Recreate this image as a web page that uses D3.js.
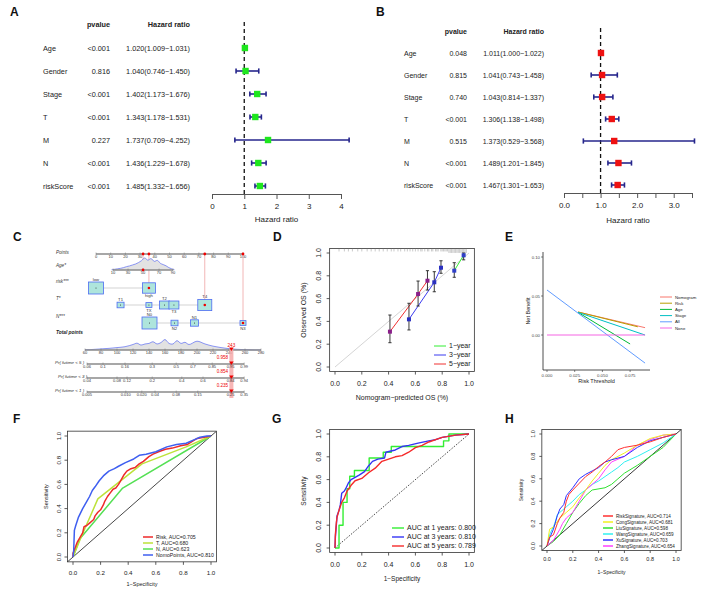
<!DOCTYPE html>
<html><head><meta charset="utf-8">
<script src="https://cdn.jsdelivr.net/npm/d3@7"></script>
<style>body{margin:0;background:#fff}svg{font-family:"Liberation Sans",Arial,Helvetica,sans-serif}</style>
</head><body><svg id="c" width="708" height="600"></svg>
<script>
// ---------------- DATA ----------------
const forestVars = ["Age","Gender","Stage","T","M","N","riskScore"];
const uniP  = ["<0.001","0.816","<0.001","<0.001","0.227","<0.001","<0.001"];
const uniHR = [1.020,1.040,1.402,1.343,1.737,1.436,1.485];
const uniLo = [1.009,0.746,1.173,1.178,0.709,1.229,1.332];
const uniHi = [1.031,1.450,1.676,1.531,4.252,1.678,1.656];
const multiP  = ["0.048","0.815","0.740","<0.001","0.515","<0.001","<0.001"];
const multiHR = [1.011,1.041,1.043,1.306,1.373,1.489,1.467];
const multiLo = [1.000,0.743,0.814,1.138,0.529,1.201,1.301];
const multiHi = [1.022,1.458,1.337,1.498,3.568,1.845,1.653];
const uniTicks = [0,1,2,3,4];
const multiTicks = [0,0.5,1,1.5,2,2.5,3,3.5];
const multiTickLabels = [0,1,2,3];

// nomogram
const ptsTicks = [0,10,20,30,40,50,60,70,80,90,100];
const ageTicks = [10,30,50,70,90];
const agePts   = [11.6,21.8,32,42.9,52.4];
const ageGrid  = [8,12,16,20,24,28,32,36,40,44,48,52,56,60,64,68,72,76,80,84,88,92];
const ageDens  = [0.02,0.06,0.1,0.14,0.2,0.28,0.34,0.42,0.5,0.62,0.78,1.0,0.82,0.95,0.72,0.8,0.55,0.45,0.35,0.2,0.1,0.02];
const riskLevels = ["low","high"]; const riskPts = [0,36]; const riskFreq = [225,169];
const tLevels = ["T1","TX","T2","T3","T4"]; const tPts = [16.7,36,46.6,53,74]; const tFreq = [49,36,100,100,196];
const nLevels = ["N0","N2","N1","N3"]; const nPts = [36.4,53.4,67,100]; const nFreq = [225,49,64,36];
const selAge = 50, selRisk = "high", selT = "T4", selN = "N3", selTotal = 243;
const totTicks = [60,80,100,120,140,160,180,200,220,240,260,280];
const totGrid = [60,70,80,90,100,110,120,125,130,135,140,145,150,155,160,165,170,175,180,185,190,200,210,220,230,240,250,260,270,280];
const totDens = [0.02,0.05,0.1,0.15,0.22,0.3,0.5,0.62,0.45,0.55,0.6,0.75,0.55,0.68,0.95,0.6,0.55,0.85,0.6,0.7,0.5,0.8,0.55,0.35,0.22,0.12,0.06,0.03,0.01,0];
const pr5Labels = ["0.06","0.1","0.16","0.3","0.5","0.7","0.85","0.95","0.99"];
const pr5Pts    = [62.5,82.5,110,144,174,195,219,242,259];
const pr3Labels = ["0.04","0.08","0.12","0.2","0.4","0.6","0.84","0.94"];
const pr3Pts    = [62.5,100,112.5,144,181,207.5,242,259];
const pr1Labels = ["0.005","0.010","0.020","0.04","0.08","0.15","0.25","0.35"];
const pr1Pts    = [62.5,111,131,147.5,174,201,242,259];
const selProb = ["0.958","0.854","0.235"];

// calibration
const calPred1=[0.89,0.96], calObs1=[0.845,0.98], calLo1=[0.787,0.94], calHi1=[0.915,1.0];
const calPred3=[0.552,0.741,0.791], calObs3=[0.418,0.743,0.871], calLo3=[0.325,0.66,0.822], calHi3=[0.559,0.836,0.932];
const calPred5=[0.41,0.62,0.69], calObs5=[0.31,0.64,0.757], calLo5=[0.213,0.535,0.675], calHi5=[0.456,0.754,0.845];
const rugPred = [0.03,0.07,0.1,0.13,0.17,0.2,0.24,0.27,0.3,0.33,0.36,0.39,0.42,0.44,0.47,0.49,0.52,0.54,0.56,0.58,0.6,0.62,0.64,0.65,0.67,0.69,0.7,0.72,0.73,0.75,0.76,0.77,0.79,0.8,0.81,0.82,0.83,0.84,0.85,0.86,0.87,0.88,0.89,0.9,0.91,0.92,0.93,0.94,0.95,0.96,0.97,0.98];

// DCA
const dcaNames = ["Nomogram","Risk","Age","Stage","All","None"];
const dcaNomoX=[0.028,0.0885], dcaNomoY=[0.0295,0.0094];
const dcaRiskX=[0.028,0.082],  dcaRiskY=[0.0295,0.0105];
const dcaAgeX=[0.028,0.075],   dcaAgeY=[0.029,-0.0115];
const dcaStageX=[0.028,0.0885],dcaStageY=[0.029,0.0];
const dcaAllX=[0,0.0885],      dcaAllY=[0.0577,-0.036];
const dcaNoneX=[0,0.0885],     dcaNoneY=[0,0];
const dcaXTicks=[0,0.025,0.05,0.075], dcaYTicks=[0,0.05,0.10];

// ROC F
const rocRiskFpr=[0,0,0.01,0.03,0.05,0.07,0.08,0.1,0.12,0.15,0.16,0.18,0.2,0.22,0.23,0.25,0.27,0.29,0.31,0.33,0.35,0.37,0.39,0.42,0.45,0.48,0.51,0.55,0.58,0.62,0.67,0.72,0.78,0.83,0.87,0.9,0.95,1];
const rocRiskTpr=[0,0.03,0.06,0.12,0.16,0.2,0.25,0.26,0.28,0.31,0.34,0.37,0.39,0.43,0.46,0.5,0.53,0.56,0.57,0.6,0.64,0.68,0.71,0.73,0.74,0.77,0.79,0.83,0.85,0.87,0.89,0.9,0.92,0.93,0.96,0.98,0.99,1];
const rocTFpr=[0,0.05,0.18,0.5,0.82,1], rocTTpr=[0,0.14,0.48,0.77,0.91,1];
const rocNFpr=[0,0.05,0.36,1], rocNTpr=[0,0.15,0.57,1];
const rocNomoFpr=[0,0.005,0.01,0.02,0.04,0.07,0.1,0.12,0.14,0.16,0.19,0.22,0.26,0.3,0.33,0.38,0.44,0.48,0.53,0.6,0.68,0.75,0.82,0.88,0.92,0.97,1];
const rocNomoTpr=[0,0.05,0.22,0.26,0.33,0.4,0.46,0.5,0.55,0.58,0.63,0.67,0.71,0.73,0.75,0.78,0.81,0.84,0.85,0.87,0.91,0.93,0.94,0.97,0.99,1,1];
const rocFLabels=["Risk, AUC=0.705","T, AUC=0.680","N, AUC=0.623","NomoPoints, AUC=0.810"];

// ROC G
const rocG1Fpr=[0,0.03,0.03,0.06,0.06,0.09,0.09,0.11,0.11,0.145,0.145,0.255,0.255,0.36,0.36,0.42,0.42,0.81,0.81,0.85,0.85,1];
const rocG1Tpr=[0,0,0.2,0.2,0.4,0.4,0.52,0.52,0.63,0.63,0.68,0.68,0.79,0.79,0.84,0.84,0.89,0.89,0.94,0.94,1,1];
const rocG3Fpr=[0,0.003,0.01,0.015,0.03,0.04,0.05,0.07,0.08,0.1,0.12,0.15,0.18,0.22,0.25,0.28,0.32,0.37,0.38,0.45,0.5,0.55,0.62,0.7,0.75,0.8,0.9,1];
const rocG3Tpr=[0,0.1,0.2,0.28,0.33,0.38,0.48,0.5,0.52,0.57,0.6,0.62,0.64,0.67,0.72,0.76,0.78,0.79,0.84,0.86,0.89,0.9,0.92,0.94,0.95,0.97,0.99,1];
const rocG5Fpr=[0,0.003,0.01,0.015,0.03,0.05,0.07,0.09,0.12,0.15,0.2,0.25,0.3,0.35,0.4,0.45,0.5,0.55,0.6,0.65,0.7,0.8,0.9,1];
const rocG5Tpr=[0,0.12,0.22,0.27,0.33,0.4,0.44,0.5,0.55,0.59,0.61,0.66,0.7,0.76,0.78,0.8,0.81,0.84,0.88,0.9,0.93,0.97,0.99,1];
const rocGLabels=["AUC at 1 years: 0.800","AUC at 3 years: 0.810","AUC at 5 years: 0.789"];

// ROC H
const rocHRiskFpr=[0,0.02,0.05,0.08,0.1,0.13,0.15,0.17,0.2,0.25,0.3,0.35,0.4,0.45,0.5,0.55,0.6,0.7,0.8,0.9,1];
const rocHRiskTpr=[0,0.08,0.1,0.2,0.25,0.3,0.4,0.46,0.5,0.56,0.62,0.66,0.71,0.75,0.8,0.86,0.88,0.9,0.93,0.97,1];
const rocHCongFpr=[0,0.02,0.05,0.1,0.15,0.2,0.25,0.3,0.35,0.4,0.45,0.5,0.6,0.7,0.8,0.9,1];
const rocHCongTpr=[0,0.15,0.17,0.25,0.3,0.35,0.43,0.5,0.58,0.65,0.72,0.77,0.83,0.9,0.96,0.99,1];
const rocHLiuFpr=[0,0.05,0.1,0.15,0.2,0.25,0.3,0.35,0.45,0.5,0.55,0.6,0.7,0.8,0.9,1];
const rocHLiuTpr=[0,0.04,0.1,0.2,0.3,0.38,0.45,0.5,0.52,0.55,0.6,0.65,0.72,0.8,0.88,1];
const rocHWangFpr=[0,0.02,0.06,0.08,0.1,0.15,0.2,0.25,0.3,0.35,0.4,0.45,0.5,0.55,0.6,0.7,0.8,0.9,1];
const rocHWangTpr=[0,0.1,0.2,0.28,0.3,0.35,0.4,0.46,0.5,0.55,0.58,0.62,0.66,0.7,0.75,0.8,0.86,0.92,1];
const rocHXuFpr=[0,0.02,0.05,0.08,0.1,0.13,0.15,0.2,0.25,0.3,0.35,0.4,0.45,0.5,0.6,0.7,0.8,0.9,1];
const rocHXuTpr=[0,0.07,0.15,0.27,0.33,0.37,0.45,0.52,0.6,0.64,0.67,0.7,0.75,0.77,0.8,0.88,0.94,0.97,1];
const rocHZhangFpr=[0,0.05,0.1,0.12,0.15,0.2,0.25,0.3,0.35,0.4,0.45,0.5,0.6,0.7,0.8,0.9,1];
const rocHZhangTpr=[0,0.05,0.15,0.2,0.25,0.3,0.4,0.5,0.55,0.6,0.68,0.75,0.8,0.9,0.95,0.99,1];
const rocHLabels=["RiskSignature, AUC=0.714","CongSignature, AUC=0.681","LiuSignature, AUC=0.598","WangSignature, AUC=0.659","XuSignature, AUC=0.703","ZhangSignature, AUC=0.654"];

// ---------------- HELPERS ----------------
const svg = d3.select('#c');
function txt(g,x,y,s,o={}){
  const t=g.append('text').attr('x',x).attr('y',y).text(s)
    .attr('font-size',o.size||7).attr('fill',o.fill||'#222');
  if(o.anchor) t.attr('text-anchor',o.anchor);
  if(o.weight) t.attr('font-weight',o.weight);
  if(o.style) t.attr('font-style',o.style);
  if(o.rotate!==undefined) t.attr('transform',`rotate(${o.rotate},${x},${y})`);
  return t;
}
function ln(g,x1,y1,x2,y2,c,w,dash){
  const l=g.append('line').attr('x1',x1).attr('y1',y1).attr('x2',x2).attr('y2',y2).attr('stroke',c).attr('stroke-width',w||1);
  if(dash) l.attr('stroke-dasharray',dash);
  return l;
}
// panel letters
[["A",10,16],["B",376,16],["C",13,241],["D",273,241],["E",505,241],["F",13,423],["G",272,423],["H",505,423]]
  .forEach(([s,x,y])=>txt(svg,x,y,s,{size:12,weight:'bold',fill:'#111'}));

// ---------------- FOREST ----------------
function forest(cfg,pv,hr,lo,hi,color){
  const g=svg.append('g');
  const x=d3.scaleLinear().domain(cfg.domain).range(cfg.range);
  const y=d3.scalePoint().domain(forestVars).range([cfg.rowTop,cfg.rowBot]);
  const fs=cfg.fs;
  txt(g,cfg.pX,cfg.headY,'pvalue',{anchor:'end',weight:'bold',size:fs});
  txt(g,cfg.hrX,cfg.headY,'Hazard ratio',{anchor:'end',weight:'bold',size:fs});
  ln(g,x(1),cfg.dashTop,x(1),cfg.axisY,'#111',1.3,'4,3');
  forestVars.forEach((v,i)=>{
    const yy=y(v);
    txt(g,cfg.labX,yy+2.6,v,{size:fs});
    txt(g,cfg.pX,yy+2.6,pv[i],{anchor:'end',size:fs});
    txt(g,cfg.hrX,yy+2.6,`${hr[i].toFixed(3)}(${lo[i].toFixed(3)}\u2212${hi[i].toFixed(3)})`,{anchor:'end',size:fs});
    ln(g,x(lo[i]),yy,x(hi[i]),yy,'#26268c',1.6);
    ln(g,x(lo[i]),yy-2.6,x(lo[i]),yy+2.6,'#26268c',1.6);
    ln(g,x(hi[i]),yy-2.6,x(hi[i]),yy+2.6,'#26268c',1.6);
    g.append('rect').attr('x',x(hr[i])-3.2).attr('y',yy-3.2).attr('width',6.4).attr('height',6.4).attr('fill',color);
  });
  const ax=d3.axisBottom(x).tickValues(cfg.ticks).tickSize(5).tickSizeOuter(0)
    .tickFormat(d=>cfg.labTicks.includes(d)?cfg.fmt(d):'');
  const a=g.append('g').attr('transform',`translate(0,${cfg.axisY})`).call(ax);
  a.selectAll('path,line').attr('stroke','#555').attr('stroke-width',1);
  a.selectAll('text').attr('font-size',8).attr('fill','#222').attr('dy','0.9em')
    .attr('font-family','"Liberation Sans",Arial,sans-serif');
  txt(g,(cfg.range[0]+cfg.range[1])/2,cfg.titleY,'Hazard ratio',{anchor:'middle',size:8});
}
forest({domain:[0,4],range:[212,341],ticks:uniTicks,labTicks:uniTicks,fmt:d3.format('d'),
  rowTop:48,rowBot:186,labX:43,pX:110,hrX:190,headY:27,dashTop:22,axisY:194,titleY:222,fs:7.3},
  uniP,uniHR,uniLo,uniHi,'#1ee61e');
forest({domain:[0,3.5],range:[564,692],ticks:multiTicks,labTicks:multiTickLabels,fmt:d3.format('.1f'),
  rowTop:53,rowBot:185,labX:404,pX:467,hrX:544,headY:34,dashTop:28,axisY:193,titleY:223,fs:7},
  multiP,multiHR,multiLo,multiHi,'#ee1111');

// ---------------- NOMOGRAM (C) ----------------
(function(){
  const g=svg.append('g');
  const P=d3.scaleLinear([0,100],[96,243]);
  const T=d3.scaleLinear([60,280],[85,261]);
  const ageToPts=d3.scaleLinear(ageTicks,agePts);
  const lab=(s,y,o={})=>txt(g,o.x||56,y,s,{size:4.6,style:'italic',fill:'#333',weight:o.w});
  const axisRow=(x0,x1,y)=>ln(g,x0,y,x1,y,'#8a8a8a',1.4);
  const tickLab=(x,y,s)=>{ln(g,x,y-1.5,x,y+1,'#777',0.5);txt(g,x,y+4.2,s,{size:4,anchor:'middle',fill:'#333'});};
  const yP=254;
  lab('Points',yP);
  axisRow(P(0),P(100),yP);
  ptsTicks.forEach(t=>tickLab(P(t),yP,t));
  const selAgePts=ageToPts(selAge);
  const selR=riskPts[riskLevels.indexOf(selRisk)], selTp=tPts[tLevels.indexOf(selT)], selNp=nPts[nLevels.indexOf(selN)];
  const yA=270,yR=288,yT=305,yN=323;
  [[selAgePts,yA],[selR,yR],[selTp,yT],[selNp,yN]].forEach(([p,yy])=>ln(g,P(p),yP,P(p),yy,'#f2b6b6',1));
  lab('Age*',yA-3);
  const area=d3.area().x((d,i)=>P(ageToPts(ageGrid[i]))).y0(yA).y1(d=>yA-d*12).curve(d3.curveCatmullRom);
  g.append('path').datum(ageDens).attr('d',area).attr('fill','#e2e2e2');
  g.append('path').datum(ageDens).attr('d',d3.line().x((d,i)=>P(ageToPts(ageGrid[i]))).y(d=>yA-d*12).curve(d3.curveCatmullRom)).attr('fill','none').attr('stroke','#5b6cf0').attr('stroke-width',0.7);
  axisRow(P(agePts[0]),P(agePts[agePts.length-1]),yA);
  ageTicks.forEach((t,i)=>tickLab(P(agePts[i]),yA,t));
  function catRow(name,y,levels,pts,freq,sel){
    lab(name,y-5);
    ln(g,P(d3.min(pts)),y,P(d3.max(pts)),y,'#c8c8c8',0.8);
    levels.forEach((l,i)=>{
      const w=Math.sqrt(freq[i]), h=w*0.8, cx=P(pts[i]);
      g.append('rect').attr('x',cx-w/2).attr('y',y-h/2).attr('width',w).attr('height',h)
        .attr('fill','#aee5dc').attr('stroke','#4d6cf2').attr('stroke-width',0.8);
      g.append('circle').attr('cx',cx).attr('cy',y).attr('r',l===sel?1.3:0.5).attr('fill',l===sel?'#e00':'#222');
      const above = i%2===0;
      txt(g,cx,above?y-h/2-1.2:y+h/2+4.2,l,{size:4.2,anchor:'middle',fill:'#333'});
    });
  }
  catRow('risk***',yR,riskLevels,riskPts,riskFreq,selRisk);
  catRow('T*',yT,tLevels,tPts,tFreq,selT);
  catRow('N***',yN,nLevels,nPts,nFreq,selN);
  [selAgePts,selR,selTp,selNp].forEach(p=>g.append('circle').attr('cx',P(p)).attr('cy',yP).attr('r',1.4).attr('fill','#e00'));
  g.append('circle').attr('cx',P(selAgePts)).attr('cy',yA).attr('r',1.4).attr('fill','#e00');
  const yTot=350;
  txt(g,56,334,'Total points',{size:4.8,style:'italic',weight:'bold',fill:'#222'});
  const tarea=d3.area().x((d,i)=>T(totGrid[i])).y0(yTot).y1(d=>yTot-d*11).curve(d3.curveCatmullRom);
  g.append('path').datum(totDens).attr('d',tarea).attr('fill','#e2e2e2');
  g.append('path').datum(totDens).attr('d',d3.line().x((d,i)=>T(totGrid[i])).y(d=>yTot-d*11).curve(d3.curveCatmullRom)).attr('fill','none').attr('stroke','#5b6cf0').attr('stroke-width',0.7);
  axisRow(T(60),T(280),yTot);
  totTicks.forEach(t=>tickLab(T(t),yTot,t));
  const prRows=[[ 'Pr( futime < 5 )',364,pr5Labels,pr5Pts,55],['Pr( futime < 3 )',378,pr3Labels,pr3Pts,58],['Pr( futime < 1 )',392,pr1Labels,pr1Pts,55]];
  g.append('rect').attr('x',T(selTotal)-2).attr('y',yTot-2).attr('width',4).attr('height',400-yTot).attr('fill','#f6a9a9').attr('opacity',0.85);
  prRows.forEach(([name,y,labs,pts,lx])=>{
    txt(g,lx,y,name,{size:4.4,style:'italic',fill:'#333'});
    axisRow(T(pts[0]),T(pts[pts.length-1]),y);
    labs.forEach((s,i)=>tickLab(T(pts[i]),y,s));
  });
  [yTot,364,378,392].forEach(y=>g.append('path').attr('d',`M${T(selTotal)-2.2},${y-2.5}L${T(selTotal)+2.2},${y-2.5}L${T(selTotal)},${y+1}Z`).attr('fill','#e00'));
  txt(g,T(selTotal),yTot-3,selTotal,{size:4.6,anchor:'middle',fill:'#e00'});
  prRows.forEach(([n,y],i)=>txt(g,T(selTotal)-9,y-5,selProb[i],{size:4.6,anchor:'middle',fill:'#e00'}));
})();

// ---------------- R style box plot helper ----------------
function rBox(cfg){
  const g=svg.append('g');
  const x=d3.scaleLinear([0,1],[cfg.x0,cfg.x1]);
  const y=d3.scaleLinear([0,1],[cfg.y0,cfg.y1]);
  const bx0=x(-0.04),bx1=x(1.04),byb=y(-0.04),byt=y(1.04);
  g.append('rect').attr('x',bx0).attr('y',byt).attr('width',bx1-bx0).attr('height',byb-byt).attr('fill','none').attr('stroke','#333').attr('stroke-width',0.8);
  const ticks=[0,0.2,0.4,0.6,0.8,1.0];
  ticks.forEach(t=>{
    ln(g,x(t),byb,x(t),byb+cfg.tl,'#333',0.8);
    ln(g,bx0,y(t),bx0-cfg.tl,y(t),'#333',0.8);
    txt(g,x(t),byb+cfg.xo,t.toFixed(1),{anchor:'middle',size:cfg.tfs});
    txt(g,bx0-cfg.yo,y(t),t.toFixed(1),{anchor:'middle',size:cfg.tfs,rotate:-90});
  });
  txt(g,(bx0+bx1)/2,byb+cfg.xto,cfg.xt,{anchor:'middle',size:cfg.ttfs});
  txt(g,bx0-cfg.yto,(byt+byb)/2,cfg.yt,{anchor:'middle',size:cfg.ttfs,rotate:-90});
  const clip='clip'+Math.round(cfg.x0)+Math.round(cfg.y0);
  g.append('clipPath').attr('id',clip).append('rect').attr('x',bx0).attr('y',byt).attr('width',bx1-bx0).attr('height',byb-byt);
  const inner=g.append('g').attr('clip-path',`url(#${clip})`);
  return {g,inner,x,y,bx0,bx1,byb,byt};
}
function curve(p,fx,fy,color,w,dash){
  const pts=fx.map((v,i)=>[p.x(v),p.y(fy[i])]);
  const c=p.inner.append('path').attr('d',d3.line()(pts)).attr('fill','none').attr('stroke',color).attr('stroke-width',w).attr('stroke-linejoin','round');
  if(dash) c.attr('stroke-dasharray',dash);
}
function legend(g,x,y0,dy,len,labels,colors,fs,w){
  labels.forEach((s,i)=>{
    ln(g,x,y0+i*dy,x+len,y0+i*dy,colors[i],w);
    txt(g,x+len+3,y0+i*dy+fs*0.35,s,{size:fs});
  });
}

// ---------------- D calibration ----------------
(function(){
  const p=rBox({x0:335,x1:469,y0:367,y1:253,tl:3,xo:14,yo:9,xto:28,yto:24,tfs:7,ttfs:7,xt:'Nomogram\u2212predicted OS (%)',yt:'Observed OS (%)'});
  curve(p,[0,1],[0,1],'#cfcfcf',0.9);
  rugPred.forEach(v=>ln(p.inner,p.x(v),p.byt,p.x(v),p.byt+(v>0.84?4.5:3),'#888',0.45));
  const series=[[calPred1,calObs1,calLo1,calHi1,'#33ee33','#3040c8'],[calPred3,calObs3,calLo3,calHi3,'#3b3bf0','#2a30c0'],[calPred5,calObs5,calLo5,calHi5,'#f03030','#8a1f8a']];
  series.forEach(([px,ob,lo,hi,c])=>curve(p,px,ob,c,1));
  series.forEach(([px,ob,lo,hi,c,mc])=>{
    px.forEach((v,i)=>{
      const xx=p.x(v);
      ln(p.g,xx,p.y(lo[i]),xx,p.y(hi[i]),'#222',0.9);
      ln(p.g,xx-1.6,p.y(lo[i]),xx+1.6,p.y(lo[i]),'#222',0.9);
      ln(p.g,xx-1.6,p.y(hi[i]),xx+1.6,p.y(hi[i]),'#222',0.9);
      p.g.append('rect').attr('x',xx-2).attr('y',p.y(ob[i])-2).attr('width',4).attr('height',4).attr('fill',mc);
    });
  });
  legend(p.g,434,346,9,12,['1\u2212year','3\u2212year','5\u2212year'],['#33ee33','#3b3bf0','#f03030'],7,1);
})();

// ---------------- E DCA ----------------
(function(){
  const g=svg.append('g');
  const x=d3.scaleLinear([0,0.1],[547,657.8]);
  const y=d3.scaleLinear([0,0.1],[335,257]);
  ln(g,543,252,543,370,'#222',0.8);
  ln(g,543,370,650,370,'#222',0.8);
  dcaXTicks.forEach(t=>{ln(g,x(t),370,x(t),372,'#333',0.6);txt(g,x(t),376.5,d3.format('.3f')(t),{anchor:'middle',size:4.3,fill:'#444'});});
  dcaYTicks.forEach(t=>{ln(g,541,y(t),543,y(t),'#333',0.6);txt(g,540,y(t)+1.5,d3.format('.2f')(t),{anchor:'end',size:4.3,fill:'#444'});});
  txt(g,596.5,383,'Risk Threshold',{anchor:'middle',size:5.5});
  txt(g,530,311,'Net Benefit',{anchor:'middle',size:5.5,rotate:-90});
  const cols=['#F8766D','#B79F00','#00BA38','#00BFC4','#619CFF','#F564E3'];
  const xs=[dcaNomoX,dcaRiskX,dcaAgeX,dcaStageX,dcaAllX,dcaNoneX];
  const ys=[dcaNomoY,dcaRiskY,dcaAgeY,dcaStageY,dcaAllY,dcaNoneY];
  xs.forEach((xx,i)=>g.append('path').attr('d',d3.line()(xx.map((v,j)=>[x(v),y(ys[i][j])]))).attr('stroke',cols[i]).attr('stroke-width',1).attr('fill','none'));
  legend(g,660,297,6.2,12,dcaNames,cols,4.3,1);
})();

// ---------------- F ROC ----------------
(function(){
  const p=rBox({x0:73,x1:211,y0:557,y1:436,tl:3,xo:13,yo:6.5,xto:24,yto:19.5,tfs:6.2,ttfs:5.5,xt:'1\u2212Specificity',yt:'Sensitivity'});
  curve(p,[-0.1,1.1],[-0.1,1.1],'#333',0.9);
  const cols=['#ee2a2a','#bde23a','#55e055','#3f5ff0'];
  curve(p,rocNFpr,rocNTpr,cols[2],1.5);
  curve(p,rocTFpr,rocTTpr,cols[1],1.5);
  curve(p,rocRiskFpr,rocRiskTpr,cols[0],1.5);
  curve(p,rocNomoFpr,rocNomoTpr,cols[3],1.5);
  legend(p.g,143,537,6,10,rocFLabels,cols,5.2,1.5);
})();

// ---------------- G ROC ----------------
(function(){
  const p=rBox({x0:335,x1:469,y0:548,y1:434,tl:3,xo:14,yo:9,xto:28.5,yto:23.5,tfs:7,ttfs:6.5,xt:'1\u2212Specificity',yt:'Sensitivity'});
  curve(p,[0,1],[0,1],'#333',0.9,'1.5,1.5');
  const cols=['#33ee33','#3434f5','#f52a2a'];
  curve(p,rocG1Fpr,rocG1Tpr,cols[0],1.4);
  curve(p,rocG3Fpr,rocG3Tpr,cols[1],1.4);
  curve(p,rocG5Fpr,rocG5Tpr,cols[2],1.4);
  legend(p.g,392,528,9,12,rocGLabels,cols,7,1.4);
})();

// ---------------- H ROC ----------------
(function(){
  const p=rBox({x0:547,x1:676,y0:546,y1:434,tl:2.5,xo:10.5,yo:7,xto:23.5,yto:19,tfs:5.5,ttfs:5,xt:'1\u2212Specificity',yt:'Sensitivity'});
  curve(p,[-0.1,1.1],[-0.1,1.1],'#222',0.9);
  const cols=['#ff3030','#f0f020','#30e030','#30f0f0','#3030ff','#ff40ff'];
  curve(p,rocHLiuFpr,rocHLiuTpr,cols[2],1);
  curve(p,rocHWangFpr,rocHWangTpr,cols[3],1);
  curve(p,rocHZhangFpr,rocHZhangTpr,cols[5],1);
  curve(p,rocHCongFpr,rocHCongTpr,cols[1],1);
  curve(p,rocHXuFpr,rocHXuTpr,cols[4],1);
  curve(p,rocHRiskFpr,rocHRiskTpr,cols[0],1);
  legend(p.g,603,516,6,10,rocHLabels,cols,4.6,1.5);
})();
</script></body></html>
